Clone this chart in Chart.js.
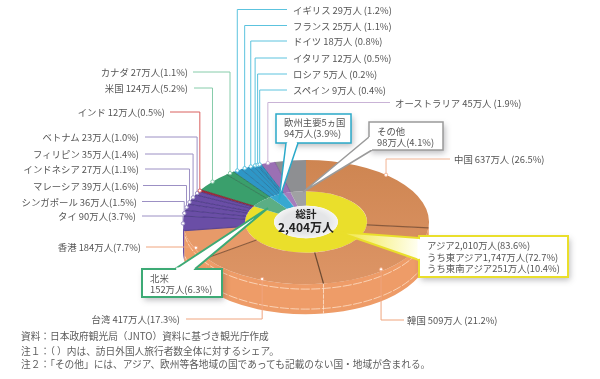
<!DOCTYPE html>
<html lang="ja">
<head>
<meta charset="utf-8">
<style>
  html, body { margin: 0; background: #fff; }
  #wrap { position: relative; width: 600px; height: 379px; overflow: hidden; font-family: "Noto Sans CJK JP", sans-serif; color: #555; }
  canvas { position: absolute; left: 0; top: 0; }
  .t { position: absolute; font-size: 9.4px; line-height: 11px; white-space: nowrap; transform: translateY(-50%); }
  .note { position: absolute; left: 21px; font-size: 9.7px; line-height: 12px; color: #5c5c5c; white-space: nowrap; transform: translateY(-50%); }
  .c { position: absolute; font-weight: 700; color: #222; white-space: nowrap; transform: translate(-50%, -50%); }
</style>
<script src="https://cdn.jsdelivr.net/npm/chart.js@4"></script>
</head>
<body>
<div id="wrap"><canvas id="chart" width="600" height="379"></canvas></div>
<script>
// 1. Data
const names = ['中国', '韓国', '台湾', '香港', 'タイ', 'シンガポール', 'マレーシア', 'インドネシア', 'フィリピン', 'ベトナム', 'インド', '米国', 'カナダ', 'イギリス', 'フランス', 'ドイツ', 'イタリア', 'ロシア', 'スペイン', 'オーストラリア', 'その他'];
const values = [637, 509, 417, 184, 90, 36, 39, 27, 35, 23, 12, 124, 27, 29, 25, 18, 12, 5, 9, 45, 98];
const shares = ['26.5', '21.2', '17.3', '7.7', '3.7', '1.5', '1.6', '1.1', '1.4', '1.0', '0.5', '5.2', '1.1', '1.2', '1.1', '0.8', '0.5', '0.2', '0.4', '1.9', '4.1'];
const regionNames = ['アジア', '北米', '欧州主要5ヵ国', 'ロシア', 'オーストラリア', 'その他'];
const regionValues = [2010, 152, 94, 5, 45, 98];

// 2. Layout & styles
const canvas = document.getElementById('chart');
const orangeFill = canvas.getContext('2d').createLinearGradient(0, 99, 0, 345);
orangeFill.addColorStop(0, '#CE8551');
orangeFill.addColorStop(1, '#DD9566');
const PURPLE = '#6A4EA6', RED = '#A92B3A', GREEN = '#3A9F6C', BLUE = '#2E96C6', LILAC = '#9B70B4', GREY = '#8E8F92';
const sliceColors = [orangeFill, orangeFill, orangeFill, '#E79A69', PURPLE, PURPLE, PURPLE, PURPLE, PURPLE, PURPLE, RED, GREEN, GREEN, BLUE, BLUE, BLUE, BLUE, BLUE, BLUE, LILAC, GREY];
const regionColors = ['#EADF2B', '#5BAE85', '#38A8D0', '#38A8D0', '#A57CBC', '#A0A1A3'];
const seamColors = ['#8A5A3C', '#6E4A30', '#8A5A3C', '#5E4690', '#43327E', '#43327E', '#43327E', '#43327E', '#43327E', '#43327E', '#7A2030', '#2A6E4C', '#24704D', '#1F6F99', '#1F6F99', '#1F6F99', '#1F6F99', '#1F6F99', '#1F6F99', '#7C5695', null];
const WALL = 30, SQUASH = 0.505;

// label position per slice: side, text edge x, y, line end x, spot along the arc
const leaders = [
  { side: 'r', x: 454, y: 159, end: 450, f: .425, col: '#F2B594' },
  { side: 'r', x: 407, y: 320, end: 404, f: .6, r: .976, col: '#EFA47C' },
  { side: 'l', x: 180, y: 319, end: 186, f: .47, r: .985, col: '#F0A57E' },
  { side: 'l', x: 141, y: 247, end: 146, f: .39, r: .987, col: '#F0A57E' },
  { side: 'l', x: 136, y: 216, end: 142, col: '#9C90C4' },
  { side: 'l', x: 137, y: 201.5, end: 142, col: '#9C90C4' },
  { side: 'l', x: 139, y: 185.5, end: 143, col: '#9C90C4' },
  { side: 'l', x: 139, y: 169, end: 145, col: '#9C90C4' },
  { side: 'l', x: 139, y: 154, end: 145, col: '#9C90C4' },
  { side: 'l', x: 139, y: 137, end: 145, col: '#9C90C4' },
  { side: 'l', x: 165, y: 112, end: 170, col: '#D9605F' },
  { side: 'l', x: 188, y: 88, end: 194, col: '#86CCAA' },
  { side: 'l', x: 188, y: 72, end: 193, col: '#86CCAA' },
  { side: 'r', x: 293, y: 9.5, end: 287, col: '#5CC3DE' },
  { side: 'r', x: 293, y: 25.5, end: 287, col: '#5CC3DE' },
  { side: 'r', x: 293, y: 41, end: 287, col: '#5CC3DE' },
  { side: 'r', x: 293, y: 58, end: 287, col: '#5CC3DE' },
  { side: 'r', x: 293, y: 74, end: 287, col: '#5CC3DE' },
  { side: 'r', x: 293, y: 90, end: 287, col: '#5CC3DE' },
  { side: 'r', x: 395, y: 102.5, end: 390, col: '#C9B3D6' }
];

// callout boxes with their pointers
const callouts = [
  { box: [369, 122, 74, 28], poly: [[369, 137], [303, 192], [372, 150]], col: '#9A9A9A', lw: 1.5, lines: [[377, 131, 'その他'], [377, 142, '98万人(4.1%)']] },
  { box: [276, 114, 75, 29], poly: [[286, 143], [279, 200], [298, 143]], col: '#2AA9C9', lw: 1.5, lines: [[284, 122, '欧州主要5ヵ国'], [284, 133, '94万人(3.9%)']] },
  { box: [142, 269, 80, 28], poly: [[175, 269], [268, 208], [195, 269]], col: '#3DAA75', lw: 2, lines: [[150, 278, '北米'], [150, 288.5, '152万人(6.3%)']] },
  { box: [419, 236, 149, 41], poly: [[419, 238], [338, 232], [419, 260]], col: '#EADF2B', lw: 2, lines: [[427, 245, 'アジア2,010万人(83.6%)'], [427, 256.5, 'うち東アジア1,747万人(72.7%)'], [427, 267.5, 'うち東南アジア251万人(10.4%)']] }
];

const notes = [
  [336, '資料：日本政府観光局（JNTO）資料に基づき観光庁作成'],
  [350.5, '注１：（ ）内は、訪日外国人旅行者数全体に対するシェア。'],
  [364, '注２：「その他」には、アジア、欧州等各地域の国であっても記載のない国・地域が含まれる。']
];

// 3. Real text over the canvas
const wrap = document.getElementById('wrap');
function addText(cls, text, css) {
  const el = document.createElement('div');
  el.className = cls;
  el.textContent = text;
  Object.assign(el.style, css);
  wrap.appendChild(el);
}
leaders.forEach((l, i) => {
  const sep = l.side === 'r' ? ' (' : '(';
  const text = `${names[i]} ${values[i]}万人${sep}${shares[i]}%)`;
  if (l.side === 'r') addText('t', text, { left: l.x + 'px', top: l.y + 'px' });
  else addText('t', text, { right: (600 - l.x) + 'px', top: l.y + 'px' });
});
callouts.forEach(c => c.lines.forEach(([x, y, s]) => addText('t', s, { left: x + 'px', top: y + 'px' })));
notes.forEach(([y, s]) => addText('note', s, { top: y + 'px' }));
addText('c', '総計', { left: '306px', top: '213px', fontSize: '10.5px' });
addText('c', '2,404万人', { left: '306px', top: '226px', fontSize: '12px' });

// 4. Tilted pie: squash the library's arcs and add the wall under them
function clampLower(a0, a1) {
  return [Math.max(a0, 0), Math.min(a1, Math.PI)];
}
const tiltPlugin = {
  id: 'tilt',
  beforeDatasetsDraw(chart) {
    const ctx = chart.ctx;
    const arcs = chart.getDatasetMeta(0).data;
    const cx = arcs[0].x, cy = arcs[0].y, R = arcs[0].outerRadius, ry = R * SQUASH;

    arcs.forEach((arc, i) => {
      const [a0, a1] = clampLower(arc.startAngle, arc.endAngle);
      if (a1 <= a0) return;
      ctx.beginPath();
      ctx.ellipse(cx, cy, R, ry, 0, a0, a1);
      ctx.ellipse(cx, cy + WALL, R, ry, 0, a1, a0, true);
      ctx.closePath();
      ctx.fillStyle = i < 4 ? '#EE9C68' : sliceColors[i];
      ctx.fill();
    });

    // pale stitched lines on the wall
    ctx.save();
    ctx.strokeStyle = 'rgba(255,232,212,.7)';
    ctx.lineWidth = 1;
    ctx.setLineDash([9, 1.5]);
    [6, 26].forEach(dy => {
      const [a0, a1] = clampLower(arcs[0].startAngle, arcs[3].endAngle);
      ctx.beginPath();
      ctx.ellipse(cx, cy + dy, R - 1, ry - 1, 0, a0 + .12, a1);
      ctx.stroke();
    });
    ctx.setLineDash([4, 1.5]);
    const a = arcs[1].endAngle;
    ctx.beginPath();
    ctx.moveTo(cx + R * Math.cos(a), cy + ry * Math.sin(a));
    ctx.lineTo(cx + R * Math.cos(a), cy + ry * Math.sin(a) + WALL);
    ctx.stroke();
    ctx.restore();

    ctx.save();
    ctx.translate(cx, cy);
    ctx.scale(1, SQUASH);
    ctx.translate(-cx, -cy);
  },
  afterDatasetsDraw(chart) {
    const ctx = chart.ctx;
    ctx.restore();
    const arcs = chart.getDatasetMeta(0).data;
    const cx = arcs[0].x, cy = arcs[0].y, R = arcs[0].outerRadius;
    const pt = (ang, r) => [cx + r * Math.cos(ang), cy + r * SQUASH * Math.sin(ang)];

    // seams between slices
    arcs.forEach((arc, i) => {
      if (!seamColors[i]) return;
      const p = pt(arc.endAngle, arc.innerRadius), q = pt(arc.endAngle, R);
      ctx.beginPath();
      ctx.moveTo(p[0], p[1]);
      ctx.lineTo(q[0], q[1]);
      ctx.strokeStyle = seamColors[i];
      ctx.lineWidth = i < 4 ? 1.2 : .8;
      ctx.stroke();
    });

    // centre hole
    const hole = chart.getDatasetMeta(1).data[0].innerRadius;
    ctx.save();
    ctx.translate(cx, cy);
    ctx.scale(1, SQUASH);
    const g = ctx.createRadialGradient(0, 0, hole * .7, 0, 0, hole);
    g.addColorStop(0, '#E4E5E7');
    g.addColorStop(1, '#F4F4F4');
    ctx.beginPath();
    ctx.arc(0, 0, hole, 0, Math.PI * 2);
    ctx.fillStyle = g;
    ctx.fill();
    ctx.restore();

    // leader lines, anchored on the slices
    leaders.forEach((l, i) => {
      const arc = arcs[i];
      const f = l.f === undefined ? .5 : l.f;
      const ang = arc.startAngle + (arc.endAngle - arc.startAngle) * f;
      const [ax, ay] = pt(ang, R * (l.r || 1));
      ctx.beginPath();
      ctx.moveTo(l.end, l.y);
      ctx.lineTo(ax, l.y);
      ctx.lineTo(ax, ay);
      ctx.strokeStyle = l.col;
      ctx.lineWidth = 1;
      ctx.stroke();
      ctx.beginPath();
      ctx.arc(ax, ay, 1.7, 0, Math.PI * 2);
      ctx.fillStyle = '#fff';
      ctx.fill();
      ctx.stroke();
    });

    // callouts
    callouts.forEach(c => {
      const [x, y, w, h] = c.box;
      ctx.save();
      ctx.shadowColor = 'rgba(60,60,70,.35)';
      ctx.shadowBlur = 6;
      ctx.shadowOffsetX = 2;
      ctx.shadowOffsetY = 3;
      ctx.fillStyle = '#fff';
      ctx.fillRect(x, y, w, h);
      ctx.restore();
      ctx.strokeStyle = c.col;
      ctx.lineWidth = c.lw;
      ctx.strokeRect(x, y, w, h);
      // pointer overlaps the box edge so the joint stays open
      const [p0, tip, p1] = c.poly;
      ctx.beginPath();
      ctx.moveTo(p0[0], p0[1]);
      ctx.lineTo(tip[0], tip[1]);
      ctx.lineTo(p1[0], p1[1]);
      if (c.col === '#EADF2B') {
        const yg = ctx.createLinearGradient(tip[0], tip[1], p0[0], p0[1]);
        yg.addColorStop(0, '#F0E63A');
        yg.addColorStop(1, '#FFFFF2');
        ctx.fillStyle = yg;
      } else {
        ctx.fillStyle = '#fff';
      }
      ctx.fill();
      ctx.stroke();
      ctx.beginPath();
      ctx.moveTo(p0[0] + (p0[0] === p1[0] ? 0 : 1.2), p0[1] + (p0[0] === p1[0] ? 1.2 : 0));
      ctx.lineTo(p1[0] - (p0[0] === p1[0] ? 0 : 1.2), p1[1] - (p0[0] === p1[0] ? 1.2 : 0));
      ctx.strokeStyle = '#fff';
      ctx.lineWidth = c.lw + 1;
      ctx.stroke();
    });
  }
};

// 5. Chart
new Chart(canvas, {
  type: 'doughnut',
  data: {
    labels: names,
    datasets: [
      { data: values, backgroundColor: sliceColors, borderWidth: 0, weight: 62 },
      { data: regionValues, backgroundColor: regionColors, borderWidth: 0, weight: 29 }
    ]
  },
  options: {
    responsive: false,
    animation: false,
    cutout: '26%',
    layout: { padding: { left: 183, right: 171, top: 99, bottom: 34 } },
    plugins: { legend: { display: false }, tooltip: { enabled: false } }
  },
  plugins: [tiltPlugin]
});
</script>
</body>
</html>
